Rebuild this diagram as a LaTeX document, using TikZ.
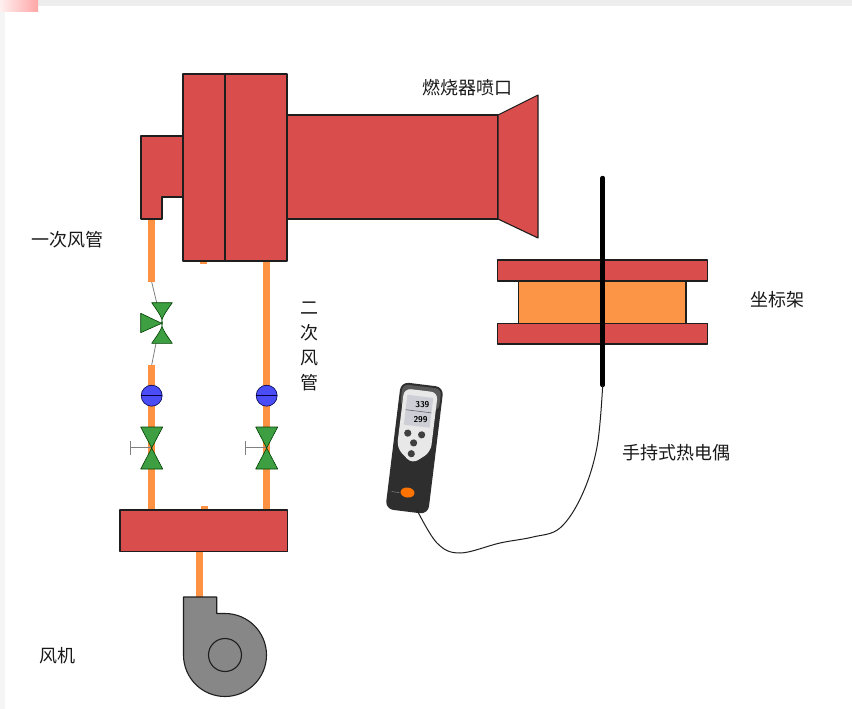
\documentclass[tikz,border=0pt]{standalone}
\usepackage{fontspec}
\newfontfamily\cjk{Noto Sans CJK SC}
\usetikzlibrary{calc}
\definecolor{burnred}{HTML}{D94D4D}
\definecolor{pipeor}{HTML}{FF9142}
\definecolor{rackor}{HTML}{FD9547}
\definecolor{valvegreen}{HTML}{3E9E42}
\definecolor{gaugeblue}{HTML}{4A4DF5}
\definecolor{fangray}{HTML}{878787}
\definecolor{edge}{HTML}{1E1E1E}
\begin{document}
\begin{tikzpicture}[x=1pt,y=-1pt,
  part/.style={fill=burnred, draw=edge, line width=1.1pt, line join=round},
  pipe/.style={draw=pipeor, line width=7pt},
  thinlink/.style={draw=gray, line width=0.8pt},
  valvebody/.style={fill=valvegreen, draw=green!25!black, line width=0.6pt, line join=round},
  gauge/.style={fill=gaugeblue, draw=blue!30!black, line width=0.6pt},
  handle/.style={draw=gray, line width=1pt},
  label/.style={font=\cjk\fontsize{18}{21}\selectfont, text=black!90, inner sep=0pt}]

\useasboundingbox (0,0) rectangle (852,709);
\fill[white] (0,0) rectangle (852,709);
% window frame strips
\fill[black!7] (0,0) rectangle (852,6);
\fill[black!4] (0,6) rectangle (5,709);
\shade[left color=red!6, right color=red!35] (0,0) rectangle (38,12);

% ---- pipes (behind the equipment) ----
\coordinate (p1top) at (151.7,219);
\coordinate (p1mid) at (151.7,282);
\coordinate (p1low) at (151.7,365);
\coordinate (p1bot) at (151.7,510);
\coordinate (p2top) at (266.7,261);
\coordinate (p2bot) at (266.7,510);
\coordinate (fanin) at (199.3,597);
\coordinate (manout) at (199.3,551);
\draw[pipe] (p1top) -- (p1mid);
\draw[pipe] (p1low) -- (p1bot);
\draw[pipe] (p2top) -- (p2bot);
\draw[pipe] (manout) -- (fanin);
\draw[pipe] (203.5,258) -- (203.5,264);
\draw[pipe] (204,506) -- (204,512);

% ---- burner ----
\draw[part] (287,115) rectangle (498,219);
\draw[part] (141,136) -- (183,136) -- (183,197) -- (162,197) -- (162,219) -- (141,219) -- cycle;
\draw[part] (183,74) rectangle (225,261);
\draw[part] (225,74) rectangle (287,261);
\draw[part] (498,115) -- (538,95) -- (538,238) -- (498,219) -- cycle;

% ---- primary air line: regulating valve ----
\coordinate (cvtop) at (156.7,302.7);
\coordinate (cvbot) at (156,343.3);
\draw[thinlink] (p1mid) -- (cvtop);
\draw[thinlink] (cvbot) -- (p1low);
\draw[valvebody] (151.7,302.7) -- (172.3,302.7) .. controls (158,323) .. (172.3,343.3)
  -- (151.7,343.3) .. controls (166,323) .. (151.7,302.7) -- cycle;
\draw[valvebody] (140.7,313.3) -- (140.7,332.7) -- (161.7,323.3) -- cycle;

% ---- flow gauges and gate valves on both lines ----
\foreach \cx in {151.7,266.7}{
  \draw[gauge] (\cx,395.7) circle (10.5);
  \draw[draw=blue!25!black, line width=0.8pt] (\cx-10.5,395.7) -- (\cx+10.5,395.7);
  \draw[handle] (\cx,447.5) -- (\cx-21.5,447.5);
  \draw[handle] (\cx-21.5,441) -- (\cx-21.5,455);
  \draw[valvebody] (\cx-11,427) -- (\cx+11,427) -- (\cx,448) -- cycle;
  \draw[valvebody] (\cx-11,469) -- (\cx+11,469) -- (\cx,448) -- cycle;
}

% ---- manifold and fan ----
\draw[part] (120,510) rectangle (287.7,551.7);
\draw[fill=fangray, draw=edge, line width=1.1pt, line join=round]
  (183.5,597) -- (216.7,597) -- (216.7,613.5) -- (225,613.5)
  arc[start angle=-90, end angle=180, radius=41.5] -- cycle;
\draw[edge, line width=1.1pt] (225,655) circle (16.5);

% ---- coordinate rack and probe ----
\draw[part] (497.3,260) rectangle (707.7,281);
\draw[fill=rackor, draw=edge, line width=1.1pt] (518.3,281) rectangle (686,323.3);
\draw[part] (497.3,323.3) rectangle (707.7,344);
\coordinate (probetop) at (602.7,178);
\coordinate (probetip) at (602.7,385);
\draw[line width=4.5pt, line cap=round] (probetop) -- (probetip);

% ---- handheld thermometer ----
\begin{scope}[shift={(414,448)}, rotate=-7]
  \fill[black!82, rounded corners=8] (-21,-64) rectangle (22,64);
  \fill[black!65, rounded corners=6] (-19,-62) rectangle (20,-40);
  \fill[gray!18, rounded corners=7] (-17,-58) -- (17,-58) -- (17,2) -- (0,16) -- (-17,2) -- cycle;
  \fill[blue!10!gray!35] (-13,-52) rectangle (13,-22);
  \draw[black!60, line width=0.6pt] (-13,-37) -- (13,-37);
  \node[font=\sffamily\bfseries\fontsize{8.5}{8.5}\selectfont, inner sep=0pt] (dispA) at (3,-44) {339};
  \node[font=\sffamily\bfseries\fontsize{8.5}{8.5}\selectfont, inner sep=0pt] (dispB) at (3,-29) {299};
  \fill[black!75] (-8,-14) circle (3.6) (6,-14) circle (3.6) (-1,-5) circle (3.6) (-2,6) circle (3.6);
  \draw[black!45, line width=0.5pt] (-17,46) -- (-9,46);
  \fill[orange!90!red] (-1,45) ellipse (7 and 5);
  \coordinate (meterbase) at (2,62);
\end{scope}
\draw[line width=1pt, black!88] plot[smooth, tension=0.6] coordinates
  {(probetip) (597,447) (582,495) (560,528) (533,537) (500,543) (460,553) (437,543) (417,510)};

% ---- labels ----
\node[label] (lbPrimary) at (67,240) {一次风管};
\node[label, align=center, font=\cjk\fontsize{18}{25}\selectfont] (lbSecondary) at (309,346.5) {二\\次\\风\\管};
\node[label] (lbFan) at (57,656) {风机};
\node[label] (lbNozzle) at (467,88) {燃烧器喷口};
\node[label] (lbRack) at (777,300) {坐标架};
\node[label] (lbThermo) at (676,453) {手持式热电偶};
\end{tikzpicture}
\end{document}
